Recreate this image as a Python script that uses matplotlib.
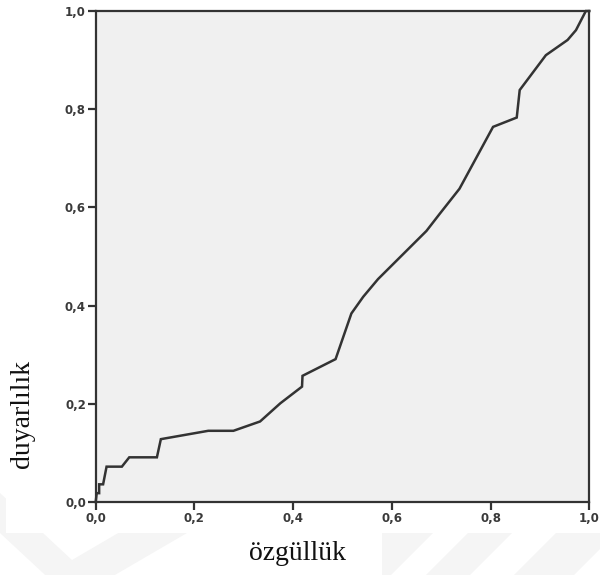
import numpy as np
import matplotlib
matplotlib.use('Agg')
from matplotlib import pyplot as plt
from matplotlib.patches import Polygon, Rectangle
from matplotlib.ticker import FixedLocator, FuncFormatter

# ROC curve points: 1 - specificity vs sensitivity
ozgulluk = [0.0, 0.0, 0.002, 0.007, 0.007, 0.015, 0.022, 0.053, 0.068, 0.124,
            0.132, 0.228, 0.279, 0.333, 0.374, 0.418, 0.419, 0.486, 0.518,
            0.542, 0.572, 0.670, 0.697, 0.737, 0.805, 0.853, 0.859, 0.912,
            0.956, 0.973, 0.993, 1.0]
duyarlilik = [0.0, 0.0, 0.018, 0.018, 0.036, 0.036, 0.072, 0.072, 0.091, 0.091,
              0.128, 0.145, 0.145, 0.164, 0.201, 0.235, 0.257, 0.291, 0.384,
              0.418, 0.454, 0.552, 0.587, 0.638, 0.764, 0.783, 0.839, 0.910,
              0.941, 0.961, 1.0, 1.0]
ticks = [0.0, 0.2, 0.4, 0.6, 0.8, 1.0]

W, H = 600, 575
fig = plt.figure(figsize=(W / 100.0, H / 100.0), dpi=100, facecolor='white')

# page background with faint watermark shapes, in pixel units
bg = fig.add_axes([0, 0, 1, 1], zorder=-5)
bg.set_xlim(0, W)
bg.set_ylim(H, 0)
bg.axis('off')
wm = '#f5f5f5'
bg.add_patch(Polygon([(-57, 480), (72, 600), (278, 480), (209, 480),
                      (72, 560), (-14, 480)], closed=True, fc=wm, ec='none'))
for a, w in [(350, 83), (468, 44), (556, 60)]:
    bg.add_patch(Polygon([(a, 533), (a + w, 533), (a + w - 50, 583), (a - 50, 583)],
                         closed=True, fc=wm, ec='none'))
bg.add_patch(Rectangle((6, 0), 588, 533, fc='white', ec='none'))
bg.add_patch(Rectangle((240, 533), 142, 45, fc='white', ec='none'))

ax = fig.add_axes([95.7 / W, (H - 502.0) / H, 493.6 / W, 491.0 / H])
ax.set_facecolor('#f0f0f0')
ax.plot(ozgulluk, duyarlilik, color='#333333', linewidth=1.8,
        solid_joinstyle='miter', clip_on=False)

ax.set_xlim(0, 1)
ax.set_ylim(0, 1)
ax.xaxis.set_major_locator(FixedLocator(ticks))
ax.yaxis.set_major_locator(FixedLocator(ticks))
comma = FuncFormatter(lambda v, pos: ('%.1f' % v).replace('.', ','))
ax.xaxis.set_major_formatter(comma)
ax.yaxis.set_major_formatter(comma)

for s in ax.spines.values():
    s.set_color('#333333')
    s.set_linewidth(1.6)
ax.tick_params(direction='out', length=6, width=1.6, color='#333333',
               labelsize=8.5, labelcolor='#3a3a3a', pad=1)
for lbl in ax.get_xticklabels() + ax.get_yticklabels():
    lbl.set_fontweight('bold')

fig.text(298 / W, 1 - 553.0 / H, 'özgüllük', family='Liberation Serif',
         fontsize=20, ha='center', va='center', color='#111111')
fig.text(22 / W, 1 - 414.0 / H, 'duyarlılık', family='Liberation Serif',
         fontsize=20, ha='center', va='center', rotation=90, color='#111111')

fig.savefig('out.png', dpi=100, facecolor='white')
